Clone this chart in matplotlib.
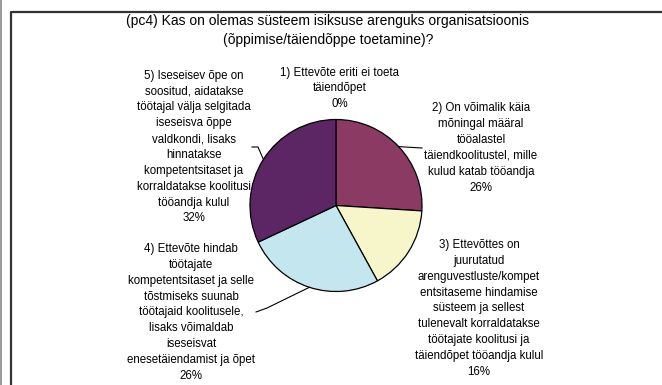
import matplotlib
matplotlib.use("Agg")
import matplotlib.pyplot as plt
import numpy as np

plt.rcParams['font.family'] = ['Liberation Sans', 'DejaVu Sans']

title = "(pc4) Kas on olemas süsteem isiksuse arenguks organisatsioonis\n(õppimise/täiendõppe toetamine)?"

labels = [
    "1) Ettevõte eriti ei toeta\ntäiendõpet",
    "2) On võimalik käia\nmõningal määral\ntööalastel\ntäiendkoolitustel, mille\nkulud katab tööandja",
    "3) Ettevõttes on\njuurutatud\narenguvestluste/kompet\nentsitaseme hindamise\nsüsteem ja sellest\ntulenevalt korraldatakse\ntöötajate koolitusi ja\ntäiendõpet tööandja kulul",
    "4) Ettevõte hindab\ntöötajate\nkompetentsitaset ja selle\ntõstmiseks suunab\ntöötajaid koolitusele,\nlisaks võimaldab\niseseisvat\nenesetäiendamist ja õpet",
    "5) Iseseisev õpe on\nsoositud, aidatakse\ntöötajal välja selgitada\niseseisva õppe\nvaldkondi, lisaks\nhinnatakse\nkompetentsitaset ja\nkorraldatakse koolitusi\ntööandja kulul",
]
shares = [0, 26, 16, 26, 32]
colors = ['#CFE0EE', '#8B3A63', '#F7F6CB', '#C4E6EE', '#5C2664']

W, H = 662, 385
fig = plt.figure(figsize=(W / 100, H / 100), dpi=100)
ax = fig.add_axes([0, 0, 1, 1])

# frame around the chart area
ax.plot([11, 11, W + 5], [-5, H - 12, H - 12], color='#333333', lw=1.6, solid_capstyle='butt')
ax.plot([0.5, 0.5], [0, H], color='#888888', lw=1.2)

cx, cy, r = 336, H - 205.5, 86
wedges, _ = ax.pie(shares, colors=colors, startangle=90, counterclock=False,
                   center=(cx, cy), radius=r, frame=True,
                   wedgeprops=dict(edgecolor='black', linewidth=0.9))
ax.set_xlim(0, W)
ax.set_ylim(0, H)
ax.set_aspect('equal')
ax.axis('off')

ax.text(328, H - 30.5, title, ha='center', va='center', fontsize=10, linespacing=1.45)

# label positions (centre of text block, pixel coords from top)
lab_pos = [(340, 88.5), (481, 148), (479, 308.5), (191, 312.5), (194, 147)]
for lab, val, (lx, ly) in zip(labels, shares, lab_pos):
    ax.text(lx, H - ly, lab + "\n%d%%" % val, ha='center', va='center',
            fontsize=8.3, linespacing=1.43)

# leader lines from wedge edge to label
total = float(sum(shares))
ang = 90.0
mids = []
for v in shares:
    span = 360.0 * v / total
    mids.append(ang - span / 2)
    ang -= span

leaders = {1: [(422, 148)], 3: [(267, 308), (256, 312)], 4: [(258, 147), (252, 147)]}
for i, pts in leaders.items():
    a = np.deg2rad(mids[i])
    ex, ey = cx + r * np.cos(a), cy + r * np.sin(a)
    xs = [ex] + [p[0] for p in pts]
    ys = [ey] + [H - p[1] for p in pts]
    ax.plot(xs, ys, color='black', lw=0.8)

fig.savefig('out.png', dpi=100)
